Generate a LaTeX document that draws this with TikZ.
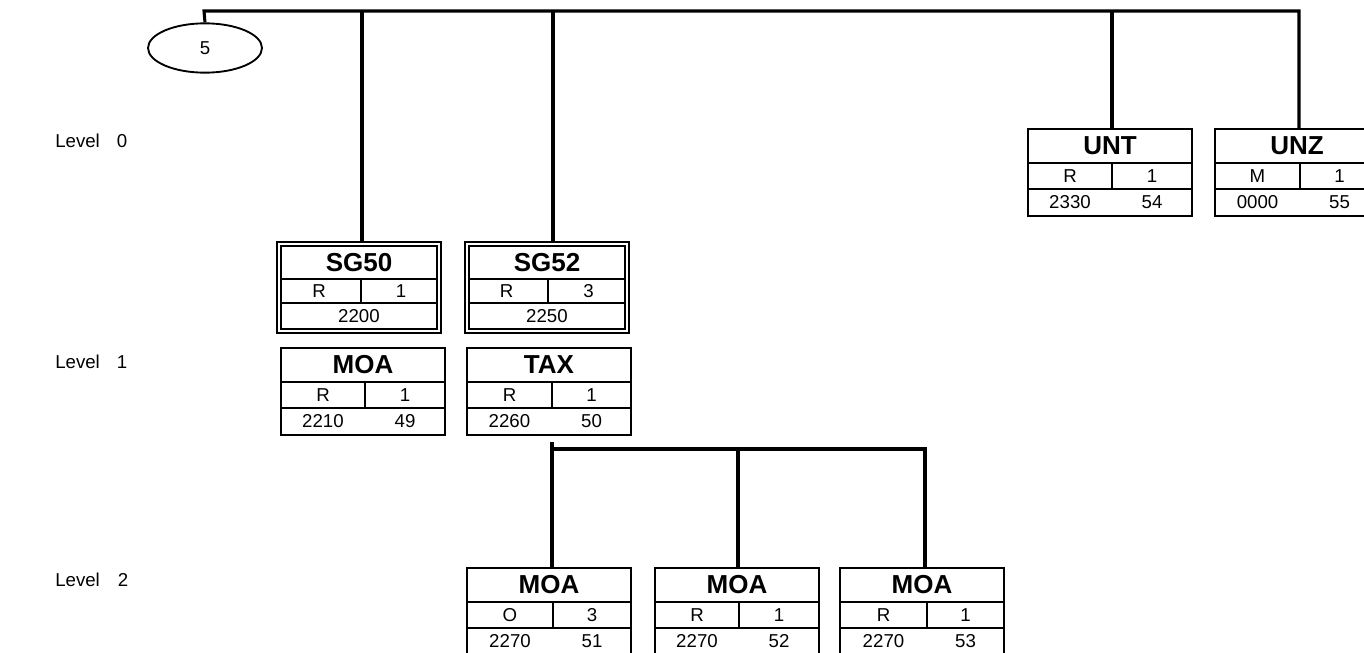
\documentclass[tikz,border=0pt]{standalone}
\usepackage{fontspec}
\setmainfont{Liberation Sans}
\usetikzlibrary{shapes.geometric}
\begin{document}
\begin{tikzpicture}[x=0.75pt,y=-0.75pt,
  conn/.style={line width=2.3pt},
  frame/.style={draw,line width=1.6pt,inner sep=0pt,outer sep=0pt,minimum width=123pt,minimum height=65.25pt},
  gframe/.style={draw,line width=1.4pt,inner sep=0pt,outer sep=0pt,minimum width=123pt,minimum height=68.25pt},
  rule/.style={line width=1.5pt},
  ttl/.style={font=\fontsize{19.5}{20}\selectfont\bfseries,inner sep=0pt},
  sml/.style={font=\fontsize{14}{15}\selectfont,inner sep=0pt},
  lvl/.style={font=\fontsize{14}{15}\selectfont,inner sep=0pt},
  oval/.style={draw,ellipse,line width=1.4pt,minimum width=85.5pt,minimum height=37pt,inner sep=0pt,font=\fontsize{14}{15}\selectfont}]
\useasboundingbox (0,0) rectangle (1364,653);
\clip (0,0) rectangle (1364,653);

\newcommand\segbox[9]{%
 \pgfmathsetmacro\bxL{#2}\pgfmathsetmacro\bxT{#3}\pgfmathsetmacro\bxD{#4}%
 \pgfmathsetmacro\bxR{\bxL+164}\pgfmathsetmacro\bxA{(\bxL+\bxD)/2}\pgfmathsetmacro\bxB{(\bxD+\bxR)/2}%
 \node[frame,anchor=north west] (#1) at (\bxL,\bxT) {};
 \draw[rule] (\bxL,\bxT+34) -- (\bxR,\bxT+34);
 \draw[rule] (\bxL,\bxT+60) -- (\bxR,\bxT+60);
 \draw[rule] (\bxD,\bxT+34) -- (\bxD,\bxT+60);
 \node[ttl] (#1-t) at (\bxL+82,\bxT+17) {#5};
 \node[sml] (#1-s) at (\bxA,\bxT+47) {#6};
 \node[sml] (#1-r) at (\bxB,\bxT+47) {#7};
 \node[sml] (#1-a) at (\bxA,\bxT+73.5) {#8};
 \node[sml] (#1-b) at (\bxB,\bxT+73.5) {#9};
}
\newcommand\grpbox[8]{%
 \pgfmathsetmacro\bxL{#2}\pgfmathsetmacro\bxT{#3}\pgfmathsetmacro\bxD{#4}%
 \pgfmathsetmacro\bxR{\bxL+164}\pgfmathsetmacro\bxA{(\bxL+\bxD)/2}\pgfmathsetmacro\bxB{(\bxD+\bxR)/2}%
 \node[gframe,anchor=north west] (#1) at (\bxL,\bxT) {};
 \draw[line width=1.4pt] (\bxL+4,\bxT+4) rectangle (\bxR-4,\bxT+87);
 \draw[rule] (\bxL+4,\bxT+37) -- (\bxR-4,\bxT+37);
 \draw[rule] (\bxL+4,\bxT+61) -- (\bxR-4,\bxT+61);
 \draw[rule] (\bxD,\bxT+37) -- (\bxD,\bxT+61);
 \node[ttl] (#1-t) at (\bxL+82,\bxT+20.5) {#5};
 \node[sml] (#1-s) at (\bxA,\bxT+49) {#6};
 \node[sml] (#1-r) at (\bxB,\bxT+49) {#7};
 \node[sml] (#1-n) at (\bxL+82,\bxT+74) {#8};
}

% level labels
\node[lvl,anchor=west] (l0) at (55,141) {Level};
\node[lvl] (l0n) at (122,141) {0};
\node[lvl,anchor=west] (l1) at (55,362) {Level};
\node[lvl] (l1n) at (122,362) {1};
\node[lvl,anchor=west] (l2) at (55,580) {Level};
\node[lvl] (l2n) at (123,580) {2};

% ellipse
\node[oval] (e5) at (205,48) {5};

% boxes
\grpbox{sg50}{277}{242}{361}{SG50}{R}{1}{2200}
\grpbox{sg52}{465}{242}{548}{SG52}{R}{3}{2250}
\segbox{moa0}{281}{348}{365}{MOA}{R}{1}{2210}{49}
\segbox{tax}{467}{348}{552}{TAX}{R}{1}{2260}{50}
\segbox{moa1}{467}{568}{553}{MOA}{O}{3}{2270}{51}
\segbox{moa2}{655}{568}{739}{MOA}{R}{1}{2270}{52}
\segbox{moa3}{840}{568}{927}{MOA}{R}{1}{2270}{53}
\segbox{unt}{1028}{129}{1112}{UNT}{R}{1}{2330}{54}
\segbox{unz}{1215}{129}{1300}{UNZ}{M}{1}{0000}{55}

% bus coordinates
\coordinate (b0) at (204,11);
\coordinate (b1) at (362,11);
\coordinate (b2) at (553,11);
\coordinate (b3) at (1112,11);
\coordinate (b4) at (1299,11);
\coordinate (t0) at (552,442);
\coordinate (c0) at (552,449);
\coordinate (c1) at (738,449);
\coordinate (c2) at (925,449);

\draw[conn] (e5.north) -- (b0) -- (b4) -- (b4 |- unz.north);
\draw[conn] (b1) -- (b1 |- sg50.north);
\draw[conn] (b2) -- (b2 |- sg52.north);
\draw[conn] (b3) -- (b3 |- unt.north);
\draw[conn] (t0) -- (c0 |- moa1.north);
\draw[conn] (c0) -- (c2) -- (c2 |- moa3.north);
\draw[conn] (c1) -- (c1 |- moa2.north);
\end{tikzpicture}
\end{document}
